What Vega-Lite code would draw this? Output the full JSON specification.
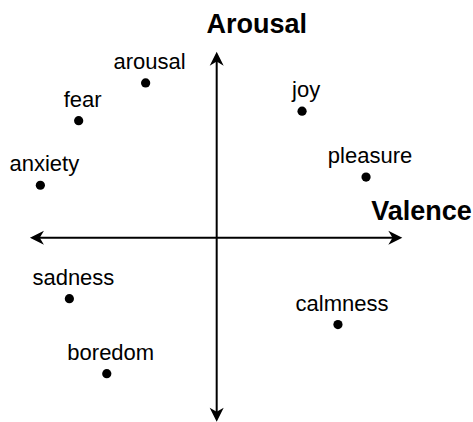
{
  "$schema": "https://vega.github.io/schema/vega-lite/v6.json",
  "width": 473,
  "height": 422,
  "autosize": {"type": "fit", "contains": "padding"},
  "padding": 0,
  "background": "white",
  "config": {"view": {"stroke": null}},
  "datasets": {
    "emotions": [
      {"emotion": "arousal", "valence": -0.382, "arousal": 0.832},
      {"emotion": "fear", "valence": -0.742, "arousal": 0.629},
      {"emotion": "anxiety", "valence": -0.948, "arousal": 0.282},
      {"emotion": "joy", "valence": 0.459, "arousal": 0.680},
      {"emotion": "pleasure", "valence": 0.803, "arousal": 0.326},
      {"emotion": "sadness", "valence": -0.792, "arousal": -0.328},
      {"emotion": "calmness", "valence": 0.652, "arousal": -0.467},
      {"emotion": "boredom", "valence": -0.591, "arousal": -0.731}
    ],
    "axes": [
      {"v1": -0.96, "v2": 0.96, "a1": 0, "a2": 0},
      {"v1": 0, "v2": 0, "a1": -0.95, "a2": 0.96}
    ],
    "heads": [
      {"valence": 0.998, "arousal": 0, "dir": 90},
      {"valence": -1.004, "arousal": 0, "dir": 270},
      {"valence": 0, "arousal": 1.0, "dir": 0},
      {"valence": 0, "arousal": -0.989, "dir": 180}
    ],
    "titles": [
      {"title": "Arousal", "valence": 0.215, "arousal": 1.1},
      {"title": "Valence", "valence": 1.101, "arousal": 0.095}
    ]
  },
  "encoding": {},
  "layer": [
    {
      "data": {"name": "axes"},
      "mark": {"type": "rule", "color": "black", "strokeWidth": 2},
      "encoding": {
        "x": {"field": "v1", "type": "quantitative", "scale": {"domain": [-1.165, 1.378], "nice": false, "zero": false}, "axis": null},
        "x2": {"field": "v2"},
        "y": {"field": "a1", "type": "quantitative", "scale": {"domain": [-0.991, 1.278], "nice": false, "zero": false}, "axis": null},
        "y2": {"field": "a2"}
      }
    },
    {
      "data": {"name": "heads"},
      "mark": {"type": "point", "filled": true, "color": "black", "opacity": 1, "size": 196, "shape": "M0,0 L1,2 L0,1.4 L-1,2 Z"},
      "encoding": {
        "x": {"field": "valence", "type": "quantitative", "axis": null},
        "y": {"field": "arousal", "type": "quantitative", "axis": null},
        "angle": {"field": "dir", "type": "quantitative", "scale": null}
      }
    },
    {
      "data": {"name": "emotions"},
      "mark": {"type": "circle", "color": "black", "opacity": 1, "size": 85},
      "encoding": {
        "x": {"field": "valence", "type": "quantitative", "axis": null},
        "y": {"field": "arousal", "type": "quantitative", "axis": null}
      }
    },
    {
      "data": {"name": "emotions"},
      "mark": {"type": "text", "font": "Liberation Sans", "fontSize": 22, "color": "black", "align": "center", "baseline": "alphabetic", "dx": 4, "dy": -14},
      "encoding": {
        "x": {"field": "valence", "type": "quantitative", "axis": null},
        "y": {"field": "arousal", "type": "quantitative", "axis": null},
        "text": {"field": "emotion"}
      }
    },
    {
      "data": {"name": "titles"},
      "mark": {"type": "text", "font": "Liberation Sans", "fontSize": 27, "fontWeight": "bold", "color": "black", "align": "center", "baseline": "alphabetic"},
      "encoding": {
        "x": {"field": "valence", "type": "quantitative", "axis": null},
        "y": {"field": "arousal", "type": "quantitative", "axis": null},
        "text": {"field": "title"}
      }
    }
  ]
}
